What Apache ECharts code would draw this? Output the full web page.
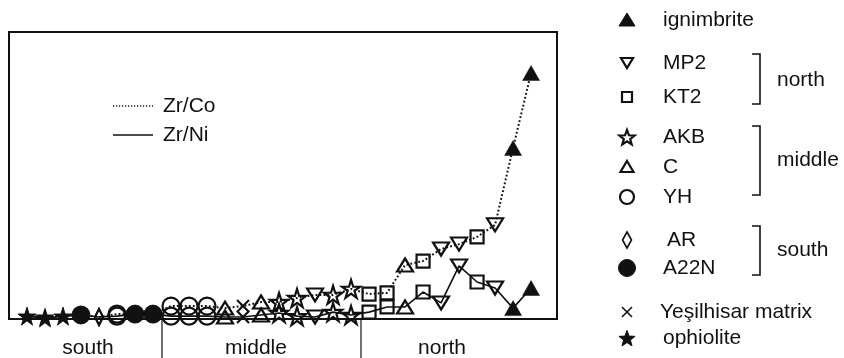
<!DOCTYPE html>
<html><head><meta charset="utf-8">
<script src="https://cdn.jsdelivr.net/npm/echarts@6/dist/echarts.min.js"></script>
<style>html,body{margin:0;padding:0;background:#fff}#c{width:844px;height:358px}</style>
</head><body><div id="c"></div><script>
// sample order along the profile (south -> middle -> north)
const sampleIndex = [1,2,3,4,5,6,7,8,9,10,11,12,13,14,15,16,17,18,19,20,21,22,23,24,25,26,27,28,29];
const sampleGroup = ['ophiolite','ophiolite','ophiolite','A22N','AR','YH','A22N','A22N',
  'YH','YH','YH','C','Yeşilhisar matrix','C','AKB','AKB','MP2','AKB','AKB',
  'KT2','KT2','C','KT2','MP2','MP2','KT2','MP2','ignimbrite','ignimbrite'];
// relative ratio values (arbitrary units, no y scale in source)
const zrCo = [1.0,0.7,1.0,1.4,0.7,1.7,1.7,1.7,4.5,4.5,4.5,3.8,4.5,5.9,5.9,7.3,8.4,8.4,10.5,8.7,9.1,18.8,20.2,24.4,26.1,28.6,32.8,59.6,85.7];
const zrNi = [1.0,0.3,1.0,1.4,0.7,1.0,1.7,1.7,1.0,1.0,1.0,0.7,0.7,1.4,2.1,1.0,0.7,2.4,1.4,2.4,4.2,4.2,9.4,5.6,18.5,12.9,10.8,3.8,10.8];
const regionLabels = ['south','middle','north'];
const legendGroups = ['ignimbrite','MP2','KT2','AKB','C','YH','AR','A22N','Yeşilhisar matrix','ophiolite'];
const bracketLabels = ['north','middle','south'];
const ratioNames = ['Zr/Co','Zr/Ni'];

const INK = '#111';
const FONT = "'Liberation Sans', Arial, sans-serif";
const FS = '21px ';
const STAR = 'path://M50,0L61.2,34.5L97.6,34.5L68.2,55.9L79.4,90.5L50,69.1L20.6,90.5L31.8,55.9L2.4,34.5L38.8,34.5Z';
const CROSS = 'path://M0,0L10,10M10,0L0,10';
const symbolDef = {
  'ignimbrite': {symbol:'triangle', size:[17,15], filled:true},
  'MP2': {symbol:'triangle', size:[16,13], rotate:180},
  'KT2': {symbol:'rect', size:13},
  'AKB': {symbol:STAR, size:18},
  'C': {symbol:'triangle', size:[16,13]},
  'YH': {symbol:'circle', size:17},
  'AR': {symbol:'diamond', size:[8,16]},
  'A22N': {symbol:'circle', size:18, filled:true},
  'Yeşilhisar matrix': {symbol:CROSS, size:12},
  'ophiolite': {symbol:STAR, size:18, filled:true}
};

const series = [];
series.push({type:'line', name:ratioNames[0], data:sampleIndex.map((x,k)=>[x,zrCo[k]]), symbol:'none',
  lineStyle:{color:INK, width:2, type:[1.8,2.2]}, z:2, silent:true});
series.push({type:'line', name:ratioNames[1], data:sampleIndex.map((x,k)=>[x,zrNi[k]]), symbol:'none',
  lineStyle:{color:INK, width:1.6}, z:2, silent:true});
legendGroups.forEach(g=>{
  const d = symbolDef[g];
  const pts = [];
  sampleIndex.forEach((x,k)=>{ if(sampleGroup[k]===g){ pts.push([x,zrCo[k]]); pts.push([x,zrNi[k]]); } });
  series.push({type:'scatter', name:g, data:pts, symbol:d.symbol, symbolSize:d.size, symbolRotate:d.rotate||0,
    itemStyle: d.filled ? {color:INK, borderColor:INK, borderWidth:0.5, opacity:1} : {color:'rgba(255,255,255,0)', borderColor:INK, borderWidth:2.2, opacity:1},
    z:3, silent:true});
});

// legend marker drawing helper (legend icons only)
function starPts(cx,cy,R){const p=[];for(let i=0;i<10;i++){const a=-Math.PI/2+i*Math.PI/5;const r=i%2?R*0.42:R;p.push([cx+r*Math.cos(a),cy+r*Math.sin(a)]);}return p;}
function legendIcon(g,cx,cy){
  const fillS={fill:INK,stroke:INK,lineWidth:1};
  const openS={fill:'none',stroke:INK,lineWidth:2.2};
  switch(g){
    case 'ignimbrite': return {type:'polygon',shape:{points:[[cx,cy-7],[cx+8,cy+6],[cx-8,cy+6]]},style:fillS};
    case 'MP2': return {type:'polygon',shape:{points:[[cx-6,cy-5],[cx+6,cy-5],[cx,cy+5]]},style:openS};
    case 'KT2': return {type:'rect',shape:{x:cx-5,y:cy-5,width:10,height:10},style:openS};
    case 'AKB': return {type:'polygon',shape:{points:starPts(cx,cy+1,8)},style:openS};
    case 'C': return {type:'polygon',shape:{points:[[cx,cy-6],[cx+6.5,cy+5],[cx-6.5,cy+5]]},style:openS};
    case 'YH': return {type:'circle',shape:{cx:cx,cy:cy,r:7},style:openS};
    case 'AR': return {type:'polygon',shape:{points:[[cx,cy-8],[cx+4.5,cy],[cx,cy+8],[cx-4.5,cy]]},style:{fill:'none',stroke:INK,lineWidth:1.6}};
    case 'A22N': return {type:'circle',shape:{cx:cx,cy:cy,r:8.5},style:fillS};
    case 'Yeşilhisar matrix': return {type:'group',children:[
      {type:'line',shape:{x1:cx-5,y1:cy-5,x2:cx+5,y2:cy+5},style:{stroke:INK,lineWidth:1.6}},
      {type:'line',shape:{x1:cx+5,y1:cy-5,x2:cx-5,y2:cy+5},style:{stroke:INK,lineWidth:1.6}}]};
    case 'ophiolite': return {type:'polygon',shape:{points:starPts(cx,cy+1,8.5)},style:fillS};
  }
}
const legendY = [20,63,97,137,167,197,240,268,312,338];
const graphics = [];
legendGroups.forEach((g,k)=>{
  graphics.push(legendIcon(g,627,legendY[k]));
  graphics.push({type:'text',x:g==='AR'?667:(g==='Yeşilhisar matrix'?660:663),y:legendY[k],
    style:{text:g,font:FS+FONT,fill:INK,textVerticalAlign:'middle'}});
});
const brackets = [[54,104,80],[126,195,160],[226,275,250]];
brackets.forEach((b,k)=>{
  graphics.push({type:'polyline',shape:{points:[[752,b[0]],[760,b[0]],[760,b[1]],[752,b[1]]]},style:{stroke:INK,lineWidth:1.6,fill:'none'}});
  graphics.push({type:'text',x:777,y:b[2],style:{text:bracketLabels[k],font:FS+FONT,fill:INK,textVerticalAlign:'middle'}});
});
// in-plot line legend
graphics.push({type:'line',shape:{x1:113,y1:106,x2:153,y2:106},style:{stroke:INK,lineWidth:1.6,lineDash:[1.2,1.8]}});
graphics.push({type:'text',x:163,y:106,style:{text:ratioNames[0],font:FS+FONT,fill:INK,textVerticalAlign:'middle'}});
graphics.push({type:'line',shape:{x1:113,y1:135,x2:153,y2:135},style:{stroke:INK,lineWidth:1.6}});
graphics.push({type:'text',x:163,y:135,style:{text:ratioNames[1],font:FS+FONT,fill:INK,textVerticalAlign:'middle'}});
// region separators and labels
[162,361].forEach(x=>graphics.push({type:'line',shape:{x1:x,y1:319,x2:x,y2:358},style:{stroke:INK,lineWidth:1.2}}));
[88,256,442].forEach((x,k)=>graphics.push({type:'text',x:x,y:348,style:{text:regionLabels[k],font:FS+FONT,fill:INK,textAlign:'center',textVerticalAlign:'middle'}}));

const chart = echarts.init(document.getElementById('c'), null, {renderer:'canvas'});
chart.setOption({
  animation:false,
  backgroundColor:'#fff',
  grid:{left:9,top:32,right:287,bottom:39,show:true,borderColor:INK,borderWidth:2,backgroundColor:'transparent'},
  xAxis:{type:'value',min:0,max:30.44,show:false},
  yAxis:{type:'value',min:0,max:100,show:false},
  series:series,
  graphic:graphics
});
</script></body></html>
